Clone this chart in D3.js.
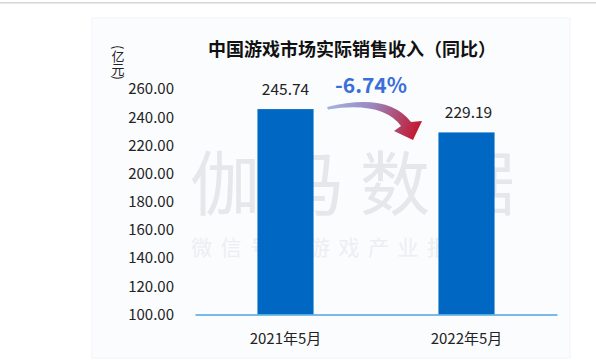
<!DOCTYPE html>
<html>
<head>
<meta charset="utf-8">
<script src="https://cdn.jsdelivr.net/npm/d3@7"></script>
<style>
  html,body{margin:0;padding:0;background:#fff;}
  svg{display:block;font-family:"Noto Sans CJK SC","Noto Sans",sans-serif;}
</style>
</head>
<body>
<svg id="chart" width="596" height="360"></svg>
<script>
const categories = ["2021年5月", "2022年5月"];
const values = [245.74, 229.19];
const valueLabels = ["245.74", "229.19"];
const yTicks = [100, 120, 140, 160, 180, 200, 220, 240, 260];
const title = "中国游戏市场实际销售收入（同比）";
const unitLabel = "(亿元)";
const changeLabel = "-6.74%";
const watermark = "伽马数据";
const watermarkSub = "微信号：游戏产业报告";

const svg = d3.select("#chart");

// page chrome
svg.append("rect").attr("x",0).attr("y",0).attr("width",596).attr("height",360).attr("fill","#ffffff");
svg.append("rect").attr("x",0).attr("y",2).attr("width",596).attr("height",1.5).attr("fill","#d6d6d6");
svg.append("rect").attr("x",92).attr("y",18).attr("width",478).attr("height",340)
  .attr("fill","#fbfcfe").attr("stroke","#f1f3f6").attr("stroke-width",1);

const x = d3.scaleBand().domain(categories).range([195, 557]).paddingInner(0.69).paddingOuter(0.345);
const y = d3.scaleLinear().domain([100, 260]).range([314.5, 89]);

// watermark
svg.append("text").attr("x",190).attr("y",210).attr("font-size",70).attr("fill","#e6e7ea")
  .attr("letter-spacing",15).text(watermark);
svg.append("text").attr("x",191).attr("y",255).attr("font-size",21).attr("fill","#eceef1")
  .attr("letter-spacing",8.5).text(watermarkSub);

// bars
svg.append("g").selectAll("rect").data(values).join("rect")
  .attr("x",(d,i)=>x(categories[i]))
  .attr("y",d=>y(d))
  .attr("width",x.bandwidth())
  .attr("height",d=>y(100)-y(d))
  .attr("fill","#0068c2");

// baseline axis
const xAxis = d3.axisBottom(x).tickSize(0).tickPadding(19);
const gx = svg.append("g").attr("transform",`translate(0,${y(100)})`).call(xAxis);
gx.select(".domain").attr("stroke","#4ea6de").attr("stroke-width",1.5);
gx.selectAll("text").attr("font-size",15).attr("fill","#222").attr("font-family",'"Noto Sans CJK SC",sans-serif');

// y axis labels
const yAxis = d3.axisLeft(y).tickValues(yTicks).tickSize(0).tickPadding(0).tickFormat(d3.format(".2f"));
const gy = svg.append("g").attr("transform","translate(174,0)").call(yAxis);
gy.select(".domain").remove();
gy.selectAll("text").attr("font-size",15).attr("fill","#222").attr("font-family",'"Noto Sans CJK SC",sans-serif');

// value labels
svg.append("g").selectAll("text").data(values).join("text")
  .attr("x",(d,i)=>x(categories[i])+x.bandwidth()/2 + (i===1?2:0))
  .attr("y",d=>y(d)-14)
  .attr("text-anchor","middle")
  .attr("font-size",15.5).attr("fill","#222")
  .text((d,i)=>valueLabels[i]);

// title
svg.append("text").attr("x",352).attr("y",56).attr("text-anchor","middle")
  .attr("font-size",18).attr("font-weight","bold").attr("fill","#111").text(title);

// unit label vertical
svg.append("text").attr("x",118).attr("y",45)
  .attr("font-size",13).attr("fill","#222")
  .style("writing-mode","vertical-rl")
  .text(unitLabel);

// change label
svg.append("text").attr("x",371).attr("y",93).attr("text-anchor","middle")
  .attr("font-size",21).attr("font-weight","bold").attr("fill","#3a6fd8").text(changeLabel);

// curved arrow
const defs = svg.append("defs");
const grad = defs.append("linearGradient").attr("id","arrowGrad")
  .attr("gradientUnits","userSpaceOnUse").attr("x1",327).attr("y1",104).attr("x2",418).attr("y2",136);
grad.append("stop").attr("offset","0%").attr("stop-color","#a4b6e2");
grad.append("stop").attr("offset","45%").attr("stop-color","#9a86bd");
grad.append("stop").attr("offset","100%").attr("stop-color","#c4142a");

const p = d3.path();
p.moveTo(327,107);
p.quadraticCurveTo(388,92,411,122);
p.lineTo(422,121);
p.lineTo(413,140);
p.lineTo(394,131);
p.lineTo(401,126);
p.quadraticCurveTo(382,101,328,109.5);
p.closePath();
svg.append("path").attr("d",p.toString()).attr("fill","url(#arrowGrad)");
</script>
</body>
</html>
